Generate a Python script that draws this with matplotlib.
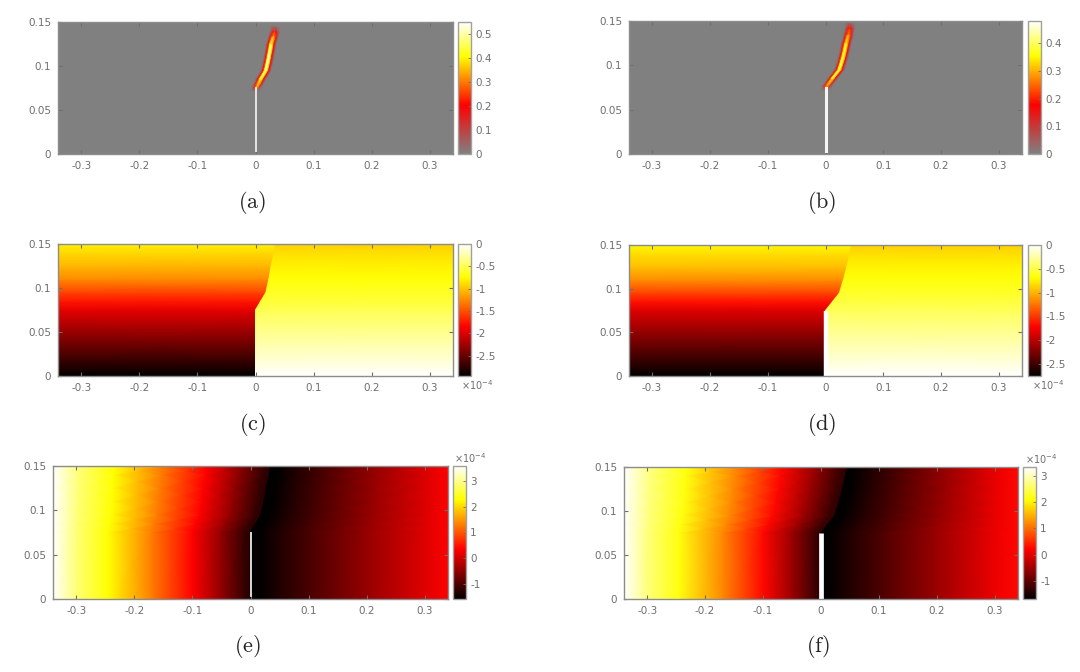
import matplotlib
matplotlib.use("Agg")
import matplotlib.pyplot as plt
import numpy as np
from matplotlib.colors import LinearSegmentedColormap

W, H = 1080, 672
XMAX = 0.34
YMAX = 0.15
GREY = "#6e6e6e"

# crack path, y stations shared by the field panels
crack_y = [0.0, 0.075, 0.085, 0.095, 0.11, 0.125, 0.14, 0.15]
crack_x_left_col = [0.0, 0.0, 0.009, 0.018, 0.023, 0.027, 0.032, 0.034]
crack_x_right_col = [0.0, 0.0, 0.012, 0.024, 0.031, 0.037, 0.042, 0.045]

# panel a/b: damage ridge, rows along the crack, columns across it
ridge_offset = [-0.009, -0.005, -0.002, 0.0, 0.002, 0.005, 0.009]
ridge_x_a = [0.0, 0.002, 0.009, 0.018, 0.023, 0.027, 0.031, 0.033, 0.033]
ridge_y_a = [0.072, 0.076, 0.085, 0.095, 0.11, 0.125, 0.134, 0.139, 0.145]
ridge_a = [
    [0.0, 0.0, 0.0, 0.0, 0.0, 0.0, 0.0],
    [0.0, 0.08, 0.22, 0.32, 0.3, 0.1, 0.0],
    [0.0, 0.18, 0.38, 0.44, 0.38, 0.18, 0.0],
    [0.0, 0.18, 0.42, 0.5, 0.42, 0.18, 0.0],
    [0.0, 0.18, 0.44, 0.55, 0.44, 0.18, 0.0],
    [0.0, 0.18, 0.4, 0.46, 0.4, 0.18, 0.0],
    [0.0, 0.16, 0.28, 0.34, 0.28, 0.16, 0.0],
    [0.0, 0.1, 0.2, 0.24, 0.2, 0.1, 0.0],
    [0.0, 0.0, 0.0, 0.0, 0.0, 0.0, 0.0],
]
ridge_x_b = [0.0, 0.002, 0.012, 0.024, 0.031, 0.036, 0.04, 0.042, 0.042]
ridge_y_b = [0.072, 0.076, 0.085, 0.095, 0.11, 0.125, 0.135, 0.142, 0.148]
ridge_b = [
    [0.0, 0.0, 0.0, 0.0, 0.0, 0.0, 0.0],
    [0.0, 0.07, 0.2, 0.26, 0.24, 0.08, 0.0],
    [0.0, 0.15, 0.32, 0.38, 0.32, 0.15, 0.0],
    [0.0, 0.15, 0.34, 0.42, 0.34, 0.15, 0.0],
    [0.0, 0.15, 0.34, 0.4, 0.34, 0.15, 0.0],
    [0.0, 0.15, 0.32, 0.38, 0.32, 0.15, 0.0],
    [0.0, 0.13, 0.24, 0.28, 0.24, 0.13, 0.0],
    [0.0, 0.09, 0.16, 0.2, 0.16, 0.09, 0.0],
    [0.0, 0.0, 0.0, 0.0, 0.0, 0.0, 0.0],
]

# panel c/d: values (x 1e-4) at crack_y, left and right of the crack
left_c = [-2.95, -1.95, -1.75, -1.55, -1.25, -1.05, -0.9, -0.8]
right_c = [0.0, -0.5, -0.58, -0.63, -0.72, -0.8, -0.88, -0.95]
left_d = [-2.75, -1.85, -1.65, -1.45, -1.15, -0.95, -0.82, -0.72]
right_d = [0.0, -0.45, -0.52, -0.58, -0.66, -0.74, -0.82, -0.88]

# panel e/f: values (x 1e-4) along x, left and right of the crack
left_x = [-0.34, -0.3, -0.245, -0.17, -0.1, -0.05, -0.01, 0.0]
left_e = [3.6, 2.9, 2.3, 1.3, 0.35, -0.5, -1.2, -1.3]
left_f = [3.35, 2.7, 2.15, 1.2, 0.25, -0.55, -1.25, -1.35]
right_x = [0.0, 0.02, 0.05, 0.1, 0.2, 0.3, 0.34]
right_e = [-1.6, -1.55, -1.35, -1.05, -0.45, 0.1, 0.35]
right_f = [-1.7, -1.65, -1.45, -1.15, -0.55, 0.05, 0.25]

notch_y = [0.003, 0.075]
x_ticks = [-0.3, -0.2, -0.1, 0, 0.1, 0.2, 0.3]
x_labels = ["-0.3", "-0.2", "-0.1", "0", "0.1", "0.2", "0.3"]
y_ticks = [0, 0.05, 0.1, 0.15]
y_labels = ["0", "0.05", "0.1", "0.15"]

hot = LinearSegmentedColormap.from_list(
    "mhot", [(0, "#000000"), (0.375, "#ff0000"), (0.75, "#ffff00"), (1, "#ffffff")], N=512
)
grey_hot = LinearSegmentedColormap.from_list(
    "ghot", [(0, "#808080"), (0.37, "#ff0000"), (0.74, "#ffff00"), (1, "#ffffff")], N=512
)


def make_axes(left, right, top, bottom):
    ax = fig.add_axes([left / W, 1 - bottom / H, (right - left) / W, (bottom - top) / H])
    ax.set_xlim(-XMAX, XMAX)
    ax.set_ylim(0, YMAX)
    ax.set_xticks(x_ticks, x_labels)
    ax.set_yticks(y_ticks, y_labels)
    ax.tick_params(direction="in", length=3, width=0.8, color=GREY, labelcolor=GREY,
                   labelsize=7.5, top=True, right=True, pad=5)
    for s in ax.spines.values():
        s.set_color("#8c8c8c")
        s.set_linewidth(1.0)
    return ax


def add_bar(mesh, left, top, bottom, ticks, labels):
    cax = fig.add_axes([left / W, 1 - bottom / H, 13 / W, (bottom - top) / H])
    cb = fig.colorbar(mesh, cax=cax)
    cb.set_ticks(ticks, labels=labels)
    cb.ax.tick_params(direction="in", length=2, width=0.6, color=GREY, labelcolor=GREY,
                      labelsize=7.5, pad=3)
    cb.outline.set_edgecolor("#a0a0a0")
    cb.outline.set_linewidth(1.0)


def draw_ridge(ax, ridge_x, ridge_y, ridge, vmax):
    X = np.array(ridge_x)[:, None] + np.array(ridge_offset)[None, :]
    Y = np.repeat(np.array(ridge_y)[:, None], len(ridge_offset), axis=1)
    ax.set_facecolor(grey_hot(0.0))
    return ax.pcolormesh(X, Y, np.array(ridge), shading="gouraud", cmap=grey_hot, vmin=0, vmax=vmax)


def draw_by_y(ax, crack_x, left, right, vmin, vmax):
    cx = np.array(crack_x)
    edge = np.full_like(cx, -XMAX)
    Y = np.array(crack_y)
    mesh = ax.pcolormesh(np.c_[edge, cx], np.c_[Y, Y], np.c_[left, left],
                         shading="gouraud", cmap=hot, vmin=vmin, vmax=vmax)
    ax.pcolormesh(np.c_[cx, -edge], np.c_[Y, Y], np.c_[right, right],
                  shading="gouraud", cmap=hot, vmin=vmin, vmax=vmax)
    return mesh


def draw_by_x(ax, crack_x, left, right, vmin, vmax):
    cx = np.array(crack_x)[:, None]
    Y = np.array(crack_y)[:, None]
    sl = (np.array(left_x)[None, :] + XMAX) / XMAX
    sr = np.array(right_x)[None, :] / XMAX
    Xl = -XMAX + (cx + XMAX) * sl
    Xr = cx + (XMAX - cx) * sr
    Cl = np.repeat(np.array(left)[None, :], len(crack_y), axis=0)
    Cr = np.repeat(np.array(right)[None, :], len(crack_y), axis=0)
    mesh = ax.pcolormesh(Xl, np.repeat(Y, sl.size, axis=1), Cl,
                         shading="gouraud", cmap=hot, vmin=vmin, vmax=vmax)
    ax.pcolormesh(Xr, np.repeat(Y, sr.size, axis=1), Cr,
                  shading="gouraud", cmap=hot, vmin=vmin, vmax=vmax)
    return mesh


def caption(x, y, s):
    fig.text(x / W, 1 - y / H, r"$\mathrm{(" + s + ")}$", ha="center", va="center",
             fontsize=16, math_fontfamily="cm", color="#222222")


def exponent(x, y):
    fig.text(x / W, 1 - y / H, r"$\times 10^{-4}$", ha="center", va="center",
             fontsize=7, color=GREY, math_fontfamily="dejavusans")


fig = plt.figure(figsize=(W / 100, H / 100), dpi=100)

# (a)
ax = make_axes(58, 453, 22, 154)
m = draw_ridge(ax, ridge_x_a, ridge_y_a, ridge_a, 0.55)
ax.plot([0, 0], notch_y, color="#e4e4e4", lw=1.4)
add_bar(m, 458, 22, 154, [0, 0.1, 0.2, 0.3, 0.4, 0.5], ["0", "0.1", "0.2", "0.3", "0.4", "0.5"])
caption(252, 203, "a")

# (b)
ax = make_axes(629, 1022, 21, 154)
m = draw_ridge(ax, ridge_x_b, ridge_y_b, ridge_b, 0.48)
ax.plot([0, 0], notch_y, color="#f4f4f4", lw=2.2)
add_bar(m, 1028, 21, 154, [0, 0.1, 0.2, 0.3, 0.4], ["0", "0.1", "0.2", "0.3", "0.4"])
caption(822, 203, "b")

# (c)
ax = make_axes(58, 453, 244, 376)
m = draw_by_y(ax, crack_x_left_col, left_c, right_c, -2.95, 0)
add_bar(m, 458, 244, 376, [0, -0.5, -1, -1.5, -2, -2.5], ["0", "-0.5", "-1", "-1.5", "-2", "-2.5"])
exponent(477, 385)
caption(252, 425, "c")

# (d)
ax = make_axes(629, 1022, 245, 376)
m = draw_by_y(ax, crack_x_right_col, left_d, right_d, -2.75, 0)
ax.plot([0, 0], [0, 0.075], color="white", lw=3.2, solid_capstyle="butt")
add_bar(m, 1028, 245, 376, [0, -0.5, -1, -1.5, -2, -2.5], ["0", "-0.5", "-1", "-1.5", "-2", "-2.5"])
exponent(1048, 385)
caption(822, 425, "d")

# (e)
ax = make_axes(53, 448, 466, 599)
m = draw_by_x(ax, crack_x_left_col, left_e, right_e, -1.6, 3.6)
ax.plot([0, 0], notch_y, color="#d8d8d8", lw=1.4)
add_bar(m, 453, 466, 599, [-1, 0, 1, 2, 3], ["-1", "0", "1", "2", "3"])
exponent(470, 458)
caption(247, 647, "e")

# (f)
ax = make_axes(624, 1018, 467, 599)
m = draw_by_x(ax, crack_x_right_col, left_f, right_f, -1.7, 3.35)
ax.plot([0, 0], [0, 0.075], color="white", lw=3.4, solid_capstyle="butt")
add_bar(m, 1023, 467, 599, [-1, 0, 1, 2, 3], ["-1", "0", "1", "2", "3"])
exponent(1041, 459)
caption(818, 647, "f")

fig.savefig("out.png", dpi=100)
